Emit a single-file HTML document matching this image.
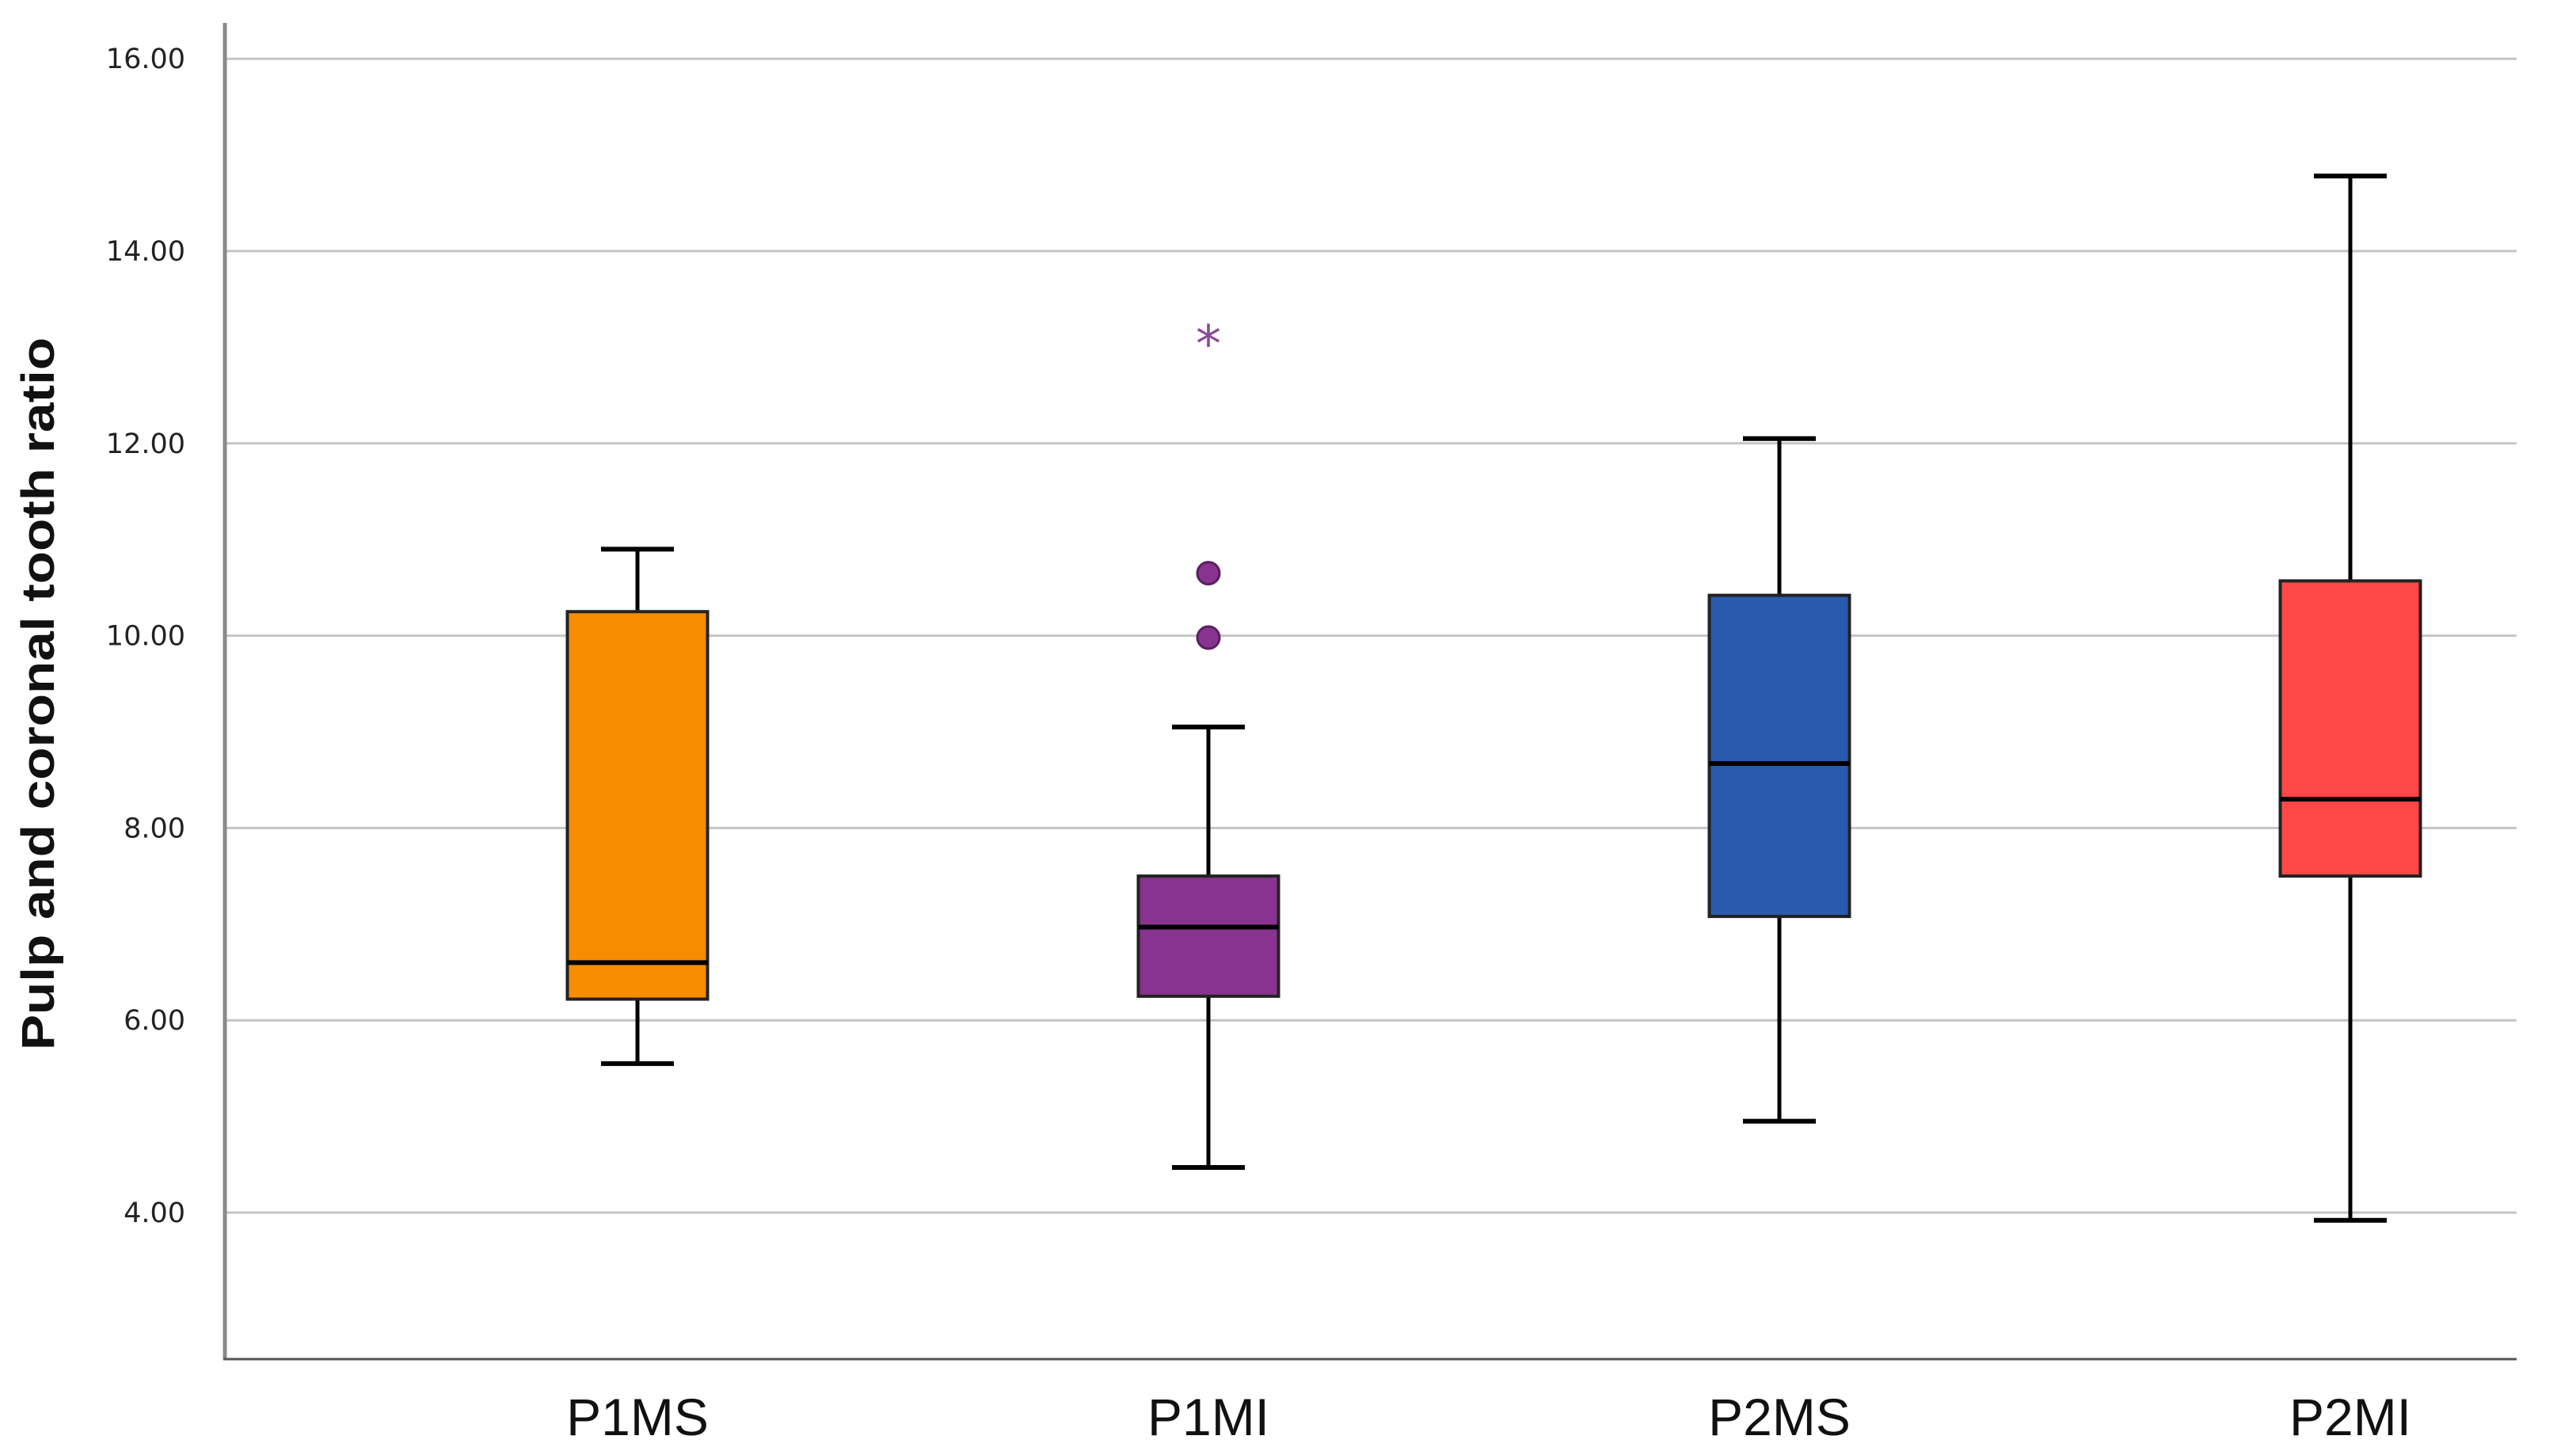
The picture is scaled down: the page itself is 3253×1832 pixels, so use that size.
<!DOCTYPE html>
<html><head><meta charset="utf-8"><style>
html,body{margin:0;padding:0;background:#fff;}
svg{display:block;}
</style></head><body>
<svg id="chart" width="3253" height="1832" viewBox="0 0 3253 1832" xmlns="http://www.w3.org/2000/svg">
<g id="grid"></g>
<g id="axes"></g>
<g id="boxes"></g>
<text transform="translate(68,876) rotate(-90)" text-anchor="middle" font-family="'Liberation Sans Narrow','Liberation Sans',sans-serif" font-weight="bold" font-size="58" textLength="900" lengthAdjust="spacingAndGlyphs" fill="#111">Pulp and coronal  tooth ratio</text>
</svg>
<script>
const categories = ["P1MS","P1MI","P2MS","P2MI"];
const colors = ["#F68C00","#87338F","#2A5AAB","#FF4747"];
const whiskerLow = [5.55,4.47,4.95,3.92];
const q1 = [6.22,6.25,7.08,7.5];
const median = [6.6,6.97,8.67,8.3];
const q3 = [10.25,7.5,10.42,10.57];
const whiskerHigh = [10.9,9.05,12.05,14.78];
const outlierCat = [1,1];
const outlierVal = [10.65,9.98];
const extremeCat = [1];
const extremeVal = [13.1];
const yTicks = [4,6,8,10,12,14,16];

const NS="http://www.w3.org/2000/svg";
const plotLeft=284, plotRight=3178, plotTop=29, plotBottom=1716;
function y(v){return 802.6-(v-10)*121.4;}
function x(i){return 805+i*721;}
function mk(tag,attrs,parent){const e=document.createElementNS(NS,tag);for(const k in attrs)e.setAttribute(k,attrs[k]);parent.appendChild(e);return e;}
const grid=document.getElementById('grid'),axes=document.getElementById('axes'),boxes=document.getElementById('boxes');

yTicks.forEach(t=>{
  const l=mk('line',{x1:plotLeft,x2:plotRight,y1:y(t),y2:y(t),stroke:'#c4c4c4','stroke-width':3},grid);
  
  
  const tx=mk('text',{x:234,y:y(t)+12,'text-anchor':'end','font-family':'DejaVu Sans,sans-serif','font-size':35,fill:'#222'},axes);
  tx.textContent=t.toFixed(2);
  
  
});
const ya=mk('line',{x1:plotLeft,x2:plotLeft,y1:plotTop,y2:plotBottom,stroke:'#8a8a8a','stroke-width':5},axes);


const xa=mk('line',{x1:plotLeft-2,x2:plotRight,y1:plotBottom,y2:plotBottom,stroke:'#555','stroke-width':3},axes);



const bw=177, cw=92;
categories.forEach((c,i)=>{
  const cx=x(i);
  const g=mk('g',{},boxes);
  
  
  mk('line',{x1:cx,x2:cx,y1:y(whiskerHigh[i]),y2:y(q3[i]),stroke:'#000','stroke-width':5},g);
  mk('line',{x1:cx,x2:cx,y1:y(q1[i]),y2:y(whiskerLow[i]),stroke:'#000','stroke-width':5},g);
  mk('line',{x1:cx-cw/2,x2:cx+cw/2,y1:y(whiskerHigh[i]),y2:y(whiskerHigh[i]),stroke:'#000','stroke-width':6},g);
  mk('line',{x1:cx-cw/2,x2:cx+cw/2,y1:y(whiskerLow[i]),y2:y(whiskerLow[i]),stroke:'#000','stroke-width':6},g);
  mk('rect',{x:cx-bw/2,y:y(q3[i]),width:bw,height:y(q1[i])-y(q3[i]),fill:colors[i],stroke:'#222','stroke-width':4},g);
  mk('line',{x1:cx-bw/2,x2:cx+bw/2,y1:y(median[i]),y2:y(median[i]),stroke:'#000','stroke-width':6},g);
  const lb=mk('text',{x:cx,y:1812,'text-anchor':'middle','font-family':'Liberation Sans,sans-serif','font-size':66,fill:'#111'},axes);
  lb.textContent=c;
  
  
});
outlierVal.forEach((v,k)=>{
  const o=mk('circle',{cx:x(outlierCat[k]),cy:y(v),r:14,fill:colors[outlierCat[k]],stroke:'#5a1f60','stroke-width':3},boxes);
  
  
});
extremeVal.forEach((v,k)=>{
  const s=mk('text',{x:x(extremeCat[k]),y:y(v)+30,'text-anchor':'middle','font-family':'DejaVu Sans,sans-serif','font-size':64,fill:'#8a4a9a'},boxes);
  s.textContent='*';
  
  
});
</script>
</body></html>
